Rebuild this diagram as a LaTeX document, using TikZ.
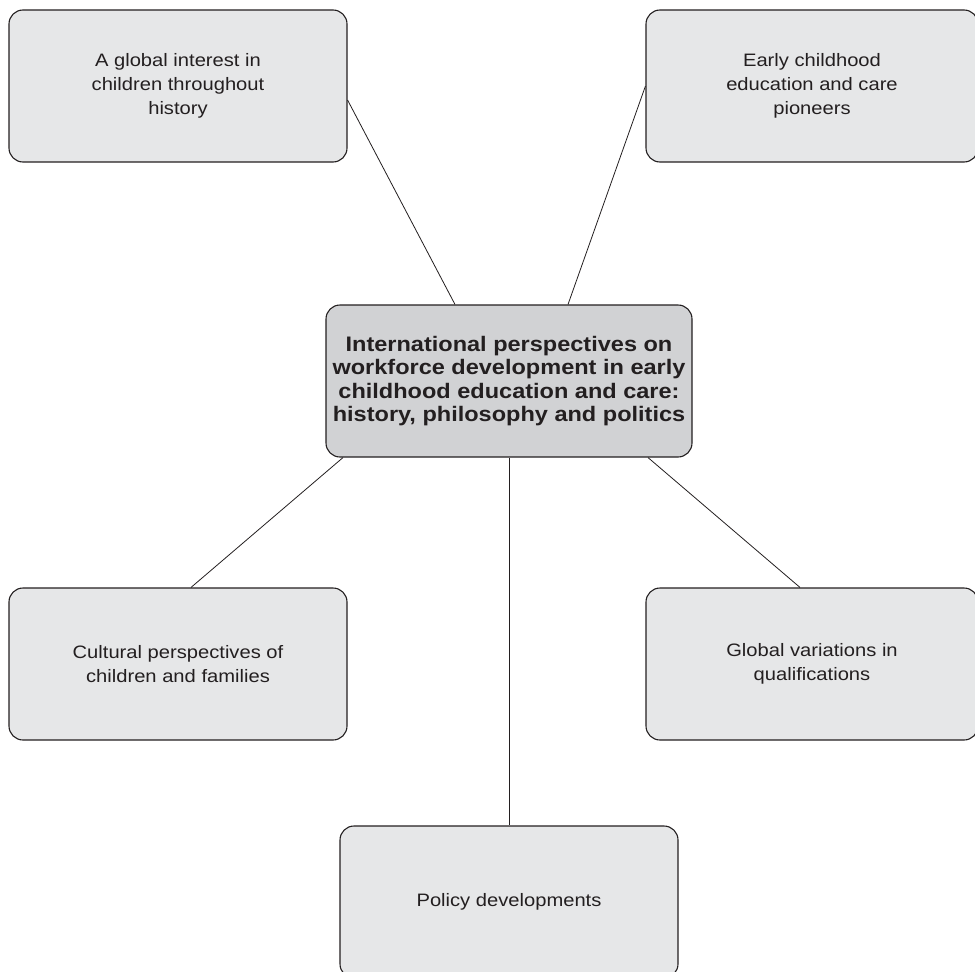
\documentclass[tikz,border=0pt]{standalone}
\usepackage{fontspec}
\setmainfont{Liberation Sans}[FakeStretch=1.12]
\usetikzlibrary{calc}
\definecolor{boxfill}{RGB}{230,231,232}
\definecolor{hubfill}{RGB}{209,210,212}
\definecolor{inkcol}{RGB}{35,31,32}

\begin{document}
\begin{tikzpicture}[line join=bevel,
  topic/.style={draw=inkcol, line width=1.1bp, fill=boxfill, rounded corners=14bp,
    minimum height=152bp, align=center, text=inkcol,
    font=\fontsize{18bp}{24bp}\selectfont},
  hubbox/.style={topic, fill=hubfill, minimum width=366bp,
    font=\fontsize{21bp}{23.3bp}\selectfont\bfseries},
  link/.style={draw=inkcol, line width=0.8bp}]
  \useasboundingbox (0bp,0bp) rectangle (975bp,-972bp);
  % Node: hub
  \node[hubbox] (hub) at (509bp,-381bp) {International perspectives on\\workforce development in early\\childhood education and care:\\history, philosophy and politics};
  % Node: history
  \node[topic, minimum width=338bp] (history) at (178bp,-86bp) {A global interest in\\children throughout\\history};
  % Node: pioneers
  \node[topic, minimum width=332bp] (pioneers) at (812bp,-86bp) {Early childhood\\education and care\\pioneers};
  % Node: culture
  \node[topic, minimum width=338bp] (culture) at (178bp,-664bp) {Cultural perspectives of\\children and families};
  % Node: quals
  \node[topic, minimum width=332bp] (quals) at (812bp,-664bp) {Global variations in\\qualifications};
  % Node: policy
  \node[topic, minimum width=338bp] (policy) at (509bp,-902bp) {Policy developments};
  % Edge: history -- hub
  \draw[link] ([yshift=-14bp]history.east) -- ([xshift=-54bp]hub.north);
  % Edge: pioneers -- hub
  \draw[link] (pioneers.west) -- ([xshift=59bp]hub.north);
  % Edge: hub -- culture
  \draw[link] ([xshift=-166bp]hub.south) -- ([xshift=13bp]culture.north);
  % Edge: hub -- quals
  \draw[link] ([xshift=139bp]hub.south) -- ([xshift=-12bp]quals.north);
  % Edge: hub -- policy
  \draw[link] (hub.south) -- (policy.north);
\end{tikzpicture}
\end{document}
